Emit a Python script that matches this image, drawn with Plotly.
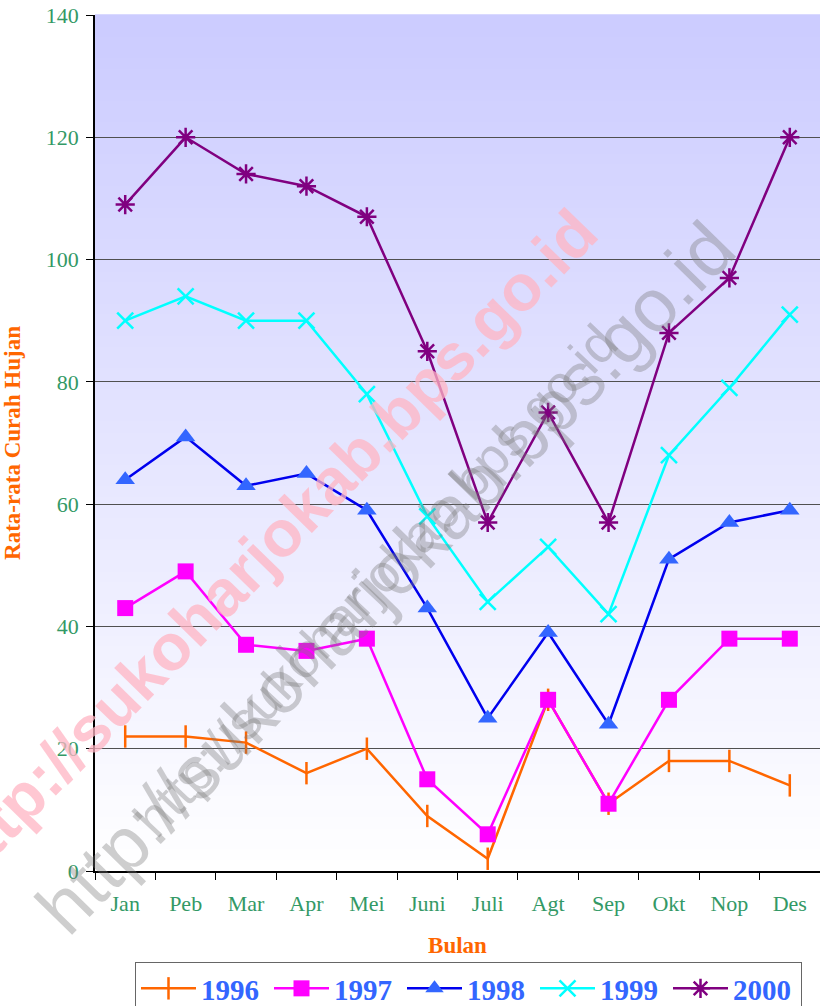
import plotly.graph_objects as go

MONTHS = ["Jan", "Peb", "Mar", "Apr", "Mei", "Juni", "Juli", "Agt", "Sep", "Okt", "Nop", "Des"]
Y1996 = [22, 22, 21, 16, 20, 9, 2, 28, 11, 18, 18, 14]
Y1997 = [43, 49, 37, 36, 38, 15, 6, 28, 11, 28, 38, 38]
Y1998 = [64, 71, 63, 65, 59, 43, 25, 39, 24, 51, 57, 59]
Y1999 = [90, 94, 90, 90, 78, 58, 44, 53, 42, 68, 79, 91]
Y2000 = [109, 120, 114, 112, 107, 85, 57, 75, 57, 88, 97, 120]
Y_TICKS = [0, 20, 40, 60, 80, 100, 120, 140]
WATERMARK = "http://sukoharjokab.bps.go.id"

SERIF = "Liberation Serif"
TICK_GREEN = "#339966"
ORANGE_TITLE = "#ff6600"
LEGEND_BLUE = "#3366ff"

fig = go.Figure()

series = [
    ("1996", Y1996, dict(color="#ff6600", width=2.5), dict(symbol="line-ns-open", size=16, line=dict(color="#ff6600", width=2.5))),
    ("1997", Y1997, dict(color="#ff00ff", width=2.5), dict(symbol="square", size=16, color="#ff00ff", line=dict(width=0))),
    ("1998", Y1998, dict(color="#0000ee", width=2.5), dict(symbol="triangle-up", size=17, color="#3366ff", line=dict(width=0))),
    ("1999", Y1999, dict(color="#00ffff", width=2.5), dict(symbol="x-thin-open", size=16, line=dict(color="#00ffff", width=2.5))),
    ("2000", Y2000, dict(color="#800080", width=2.5), dict(symbol="asterisk-open", size=16, line=dict(color="#800080", width=2.5))),
]
for name, vals, line, marker in series:
    fig.add_trace(go.Scatter(x=MONTHS, y=vals, name=name, mode="lines+markers", line=line, marker=marker))

# vertical gradient background (lavender -> white)
n = 80
shapes = []
for i in range(n):
    t = i / (n - 1)
    r = int(204 + (255 - 204) * (1 - t))
    shapes.append(dict(type="rect", xref="x domain", yref="y domain", x0=0, x1=1,
                       y0=i / n, y1=(i + 1) / n + 0.001, line=dict(width=0),
                       fillcolor=f"rgb({r},{r},255)", layer="below"))


def px_to_paper(px, py):
    return (px - 95) / 725, (871 - py) / 856


def watermark(text, cx, cy, angle, size, color):
    x, y = px_to_paper(cx, cy)
    return dict(text=text, x=x, y=y, xref="paper", yref="paper", xanchor="center", yanchor="middle",
                showarrow=False, textangle=angle, font=dict(family="Liberation Sans", size=size, color=color))


annotations = [
    watermark(f"<b>{WATERMARK}</b>", 267, 546, -45.7, 65, "rgba(255,180,195,0.75)"),
    watermark(WATERMARK, 385, 578, -45.6, 75, "rgba(120,120,120,0.36)"),
    watermark(WATERMARK, 375, 580, -46.8, 53, "rgba(120,120,120,0.36)"),
]

fig.update_layout(
    width=820, height=1006,
    margin=dict(l=95, r=0, t=15, b=135),
    paper_bgcolor="white",
    plot_bgcolor="white",
    font=dict(family=SERIF, color=TICK_GREEN),
    shapes=shapes,
    annotations=annotations,
    showlegend=True,
    legend=dict(orientation="h", xref="container", yref="container", x=135 / 820, y=1 - 962 / 1006,
                xanchor="left", yanchor="top",
                bordercolor="#666666", borderwidth=1, bgcolor="white", itemwidth=55,
                font=dict(family=SERIF, size=29, color=LEGEND_BLUE, weight="bold"),
                tracegroupgap=0, entrywidth=63),
    xaxis=dict(
        type="category", range=[-0.5, 11.5], showgrid=False, showline=True, linecolor="black", linewidth=1.5,
        ticks="outside", tickson="boundaries", ticklen=7, tickcolor="black", automargin=False,
        ticklabelstandoff=12,
        tickfont=dict(family=SERIF, size=22, color=TICK_GREEN),
        title=dict(text="<b>Bulan</b>", font=dict(family=SERIF, size=23, color=ORANGE_TITLE), standoff=22),
    ),
    yaxis=dict(
        range=[0, 140], tickvals=Y_TICKS, showgrid=True, gridcolor="#505050", gridwidth=1,
        showline=True, linecolor="black", linewidth=1.5, zeroline=False, automargin=False,
        ticks="outside", ticklen=7, tickcolor="black", ticklabelstandoff=3,
        tickfont=dict(family=SERIF, size=22, color=TICK_GREEN),
        title=dict(text="<b>Rata-rata Curah Hujan</b>", font=dict(family=SERIF, size=23, color=ORANGE_TITLE), standoff=22),
    ),
)

fig.write_html("out.html", config={"displayModeBar": False}, post_script="document.body.style.margin='0';")
